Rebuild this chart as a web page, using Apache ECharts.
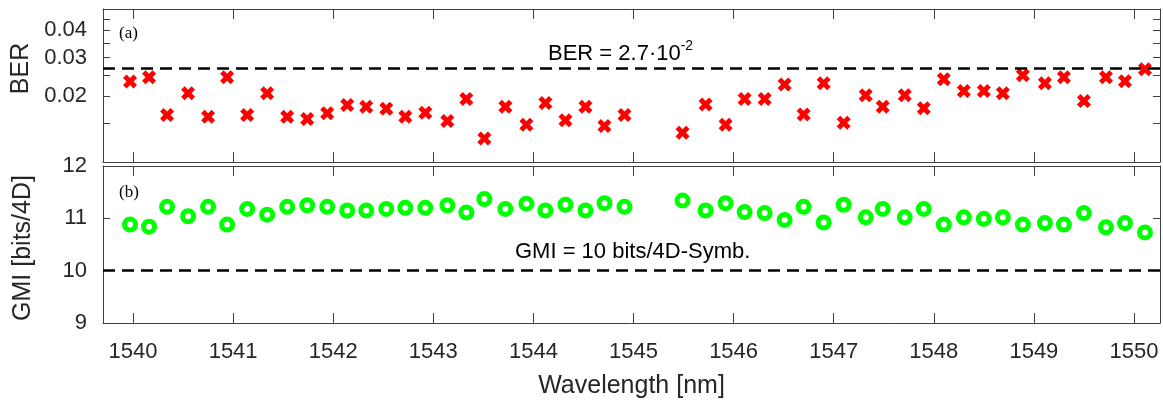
<!DOCTYPE html>
<html>
<head>
<meta charset="utf-8">
<script src="https://cdn.jsdelivr.net/npm/echarts@6/dist/echarts.min.js"></script>
<style>
  html, body { margin: 0; padding: 0; background: #fff; }
  #chart { width: 1163px; height: 401px; }
</style>
</head>
<body>
<div id="chart"></div>
<script>
// channel wavelengths (nm)
const wavelength = [1539.97, 1540.16, 1540.34, 1540.55, 1540.75, 1540.94, 1541.14, 1541.34, 1541.54, 1541.74,
  1541.94, 1542.14, 1542.33, 1542.53, 1542.72, 1542.92, 1543.14, 1543.33, 1543.51, 1543.72,
  1543.93, 1544.12, 1544.32, 1544.52, 1544.71, 1544.91, 1545.49, 1545.72, 1545.92, 1546.11,
  1546.31, 1546.51, 1546.70, 1546.90, 1547.10, 1547.32, 1547.49, 1547.71, 1547.90, 1548.10,
  1548.30, 1548.50, 1548.69, 1548.89, 1549.11, 1549.30, 1549.50, 1549.72, 1549.91, 1550.11];
const ber = [0.0233, 0.0244, 0.0164, 0.0206, 0.0161, 0.0244, 0.0164, 0.0206, 0.0161, 0.0157,
  0.0167, 0.0182, 0.0179, 0.0175, 0.0161, 0.0168, 0.0154, 0.0194, 0.0128, 0.0179,
  0.0148, 0.0186, 0.0155, 0.0179, 0.0146, 0.0164, 0.0136, 0.0183, 0.0148, 0.0194,
  0.0194, 0.0226, 0.0165, 0.0229, 0.0151, 0.0202, 0.0179, 0.0202, 0.0176, 0.0239,
  0.0211, 0.0211, 0.0206, 0.0249, 0.0229, 0.0244, 0.0190, 0.0244, 0.0234, 0.0265];
const gmi = [10.88, 10.84, 11.22, 11.04, 11.22, 10.88, 11.18, 11.07, 11.22, 11.25,
  11.22, 11.15, 11.15, 11.18, 11.20, 11.20, 11.25, 11.11, 11.37, 11.18,
  11.28, 11.15, 11.26, 11.15, 11.29, 11.22, 11.34, 11.15, 11.29, 11.12,
  11.10, 10.97, 11.22, 10.92, 11.26, 11.02, 11.18, 11.02, 11.18, 10.88,
  11.02, 10.99, 11.02, 10.88, 10.91, 10.88, 11.10, 10.83, 10.91, 10.73];

const xTicks = [1540, 1541, 1542, 1543, 1544, 1545, 1546, 1547, 1548, 1549, 1550];
const berTicks = [0.015, 0.02, 0.025, 0.03, 0.035, 0.04, 0.045];
const berLabels = [0.02, 0.03, 0.04];
const berRange = [0.01, 0.05];
const gmiTicks = [9, 10, 11, 12];
const berLimit = 0.027;
const gmiLimit = 10;

const chart = echarts.init(document.getElementById('chart'));

const axisColor = '#404040';
const textColor = '#262626';
const sans = 'Liberation Sans, Arial, sans-serif';
const xMin = 1539.7, xMax = 1550.26;

// log10 for the BER panel (value axis with custom ticks)
const lg = v => Math.log10(v);

function xAxis(grid, pos, showLabel) {
  return {
    type: 'value', gridIndex: grid, position: pos, min: xMin, max: xMax,
    axisLine: { show: true, onZero: false, lineStyle: { color: axisColor, width: 1 } },
    axisTick: { show: true, inside: true, length: 10, customValues: xTicks, lineStyle: { color: axisColor } },
    axisLabel: { show: showLabel, customValues: xTicks, margin: 18, fontSize: 22, fontFamily: sans, color: textColor,
      formatter: v => String(Math.round(v)) },
    splitLine: { show: false }
  };
}

const boldX = 'path://M0,2.5L2.5,0L5,2.5L7.5,0L10,2.5L7.5,5L10,7.5L7.5,10L5,7.5L2.5,10L0,7.5L2.5,5Z';

const option = {
  animation: false,
  backgroundColor: '#fff',
  grid: [
    { left: 103, right: 3, top: 9, height: 153, outerBoundsMode: 'none' },
    { left: 103, right: 3, top: 166, height: 157, outerBoundsMode: 'none' }
  ],
  xAxis: [
    xAxis(0, 'bottom', false),
    xAxis(0, 'top', false),
    Object.assign(xAxis(1, 'bottom', true), {
      name: 'Wavelength [nm]', nameLocation: 'middle', nameGap: 51,
      nameTextStyle: { fontSize: 25, fontFamily: sans, color: textColor }
    }),
    xAxis(1, 'top', false)
  ],
  yAxis: [
    {
      type: 'value', gridIndex: 0, position: 'left', min: lg(berRange[0]), max: lg(berRange[1]),
      name: 'BER', nameLocation: 'middle', nameGap: 67,
      nameTextStyle: { fontSize: 25, fontFamily: sans, color: textColor, padding: [0, 0, 0, 34] },
      axisLine: { show: true, lineStyle: { color: axisColor } },
      axisTick: { show: true, inside: true, length: 7, customValues: berTicks.map(lg), lineStyle: { color: axisColor } },
      axisLabel: { customValues: berLabels.map(lg), margin: 16, fontSize: 22, fontFamily: sans, color: textColor,
        formatter: v => Math.pow(10, v).toFixed(2) },
      splitLine: { show: false }
    },
    {
      type: 'value', gridIndex: 0, position: 'right', min: lg(berRange[0]), max: lg(berRange[1]),
      axisLine: { show: true, lineStyle: { color: axisColor } },
      axisTick: { show: true, inside: true, length: 7, customValues: berTicks.map(lg), lineStyle: { color: axisColor } },
      axisLabel: { show: false },
      splitLine: { show: false }
    },
    {
      type: 'value', gridIndex: 1, position: 'left', min: 9, max: 12,
      name: 'GMI [bits/4D]', nameLocation: 'middle', nameGap: 67,
      nameTextStyle: { fontSize: 25, fontFamily: sans, color: textColor, padding: [0, 7, 0, 0] },
      axisLine: { show: true, lineStyle: { color: axisColor } },
      axisTick: { show: true, inside: true, length: 7, customValues: gmiTicks, lineStyle: { color: axisColor } },
      axisLabel: { customValues: gmiTicks, margin: 16, fontSize: 22, fontFamily: sans, color: textColor },
      splitLine: { show: false }
    },
    {
      type: 'value', gridIndex: 1, position: 'right', min: 9, max: 12,
      axisLine: { show: true, lineStyle: { color: axisColor } },
      axisTick: { show: true, inside: true, length: 7, customValues: gmiTicks, lineStyle: { color: axisColor } },
      axisLabel: { show: false },
      splitLine: { show: false }
    }
  ],
  series: [
    {
      name: 'BER', type: 'scatter', xAxisIndex: 0, yAxisIndex: 0,
      data: wavelength.map((w, i) => [w, lg(ber[i])]),
      symbol: boldX, symbolSize: 14,
      itemStyle: { color: '#ff0000', opacity: 1 },
      markLine: {
        silent: true, symbol: 'none', label: { show: false },
        lineStyle: { color: '#000', width: 2.5, type: [12, 7] },
        data: [{ yAxis: lg(berLimit) }]
      }
    },
    {
      name: 'GMI', type: 'scatter', xAxisIndex: 2, yAxisIndex: 2,
      data: wavelength.map((w, i) => [w, gmi[i]]),
      symbol: 'circle', symbolSize: 11,
      itemStyle: { color: 'rgba(0,0,0,0)', borderColor: '#00ff00', borderWidth: 5, opacity: 1 },
      markLine: {
        silent: true, symbol: 'none', label: { show: false },
        lineStyle: { color: '#000', width: 2.5, type: [12, 7] },
        data: [{ yAxis: gmiLimit }]
      }
    }
  ],
  graphic: [
    { type: 'text', x: 119, y: 34, style: { text: '(a)', fontSize: 17, fontFamily: 'Liberation Serif, Times New Roman, serif', fill: '#000', verticalAlign: 'middle' } },
    { type: 'text', x: 119, y: 193, style: { text: '(b)', fontSize: 17, fontFamily: 'Liberation Serif, Times New Roman, serif', fill: '#000', verticalAlign: 'middle' } },
    {
      type: 'text', x: 548, y: 54,
      style: {
        text: '{m|BER = 2.7·10}{s|-2}', verticalAlign: 'middle', fill: '#000',
        rich: {
          m: { fontSize: 22, fontFamily: sans, lineHeight: 30, fill: '#000' },
          s: { fontSize: 14, fontFamily: sans, verticalAlign: 'top', fill: '#000' }
        }
      }
    },
    { type: 'text', x: 515, y: 252, style: { text: 'GMI = 10 bits/4D-Symb.', fontSize: 22, fontFamily: sans, fill: '#000', verticalAlign: 'middle' } }
  ]
};

chart.setOption(option);
</script>
</body>
</html>
